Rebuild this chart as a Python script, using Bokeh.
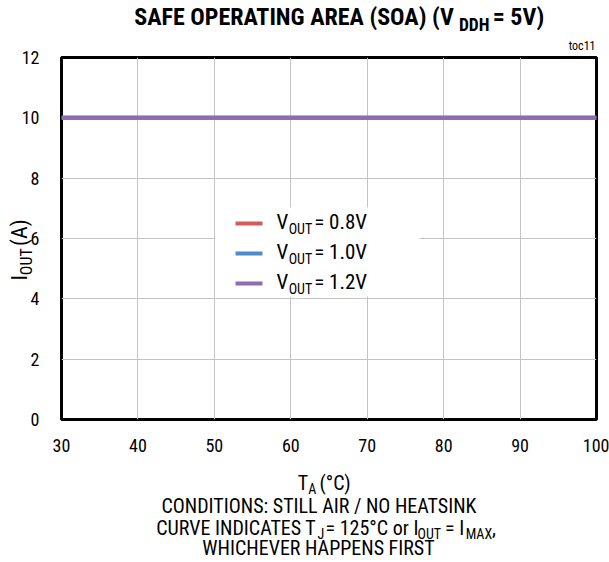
import math
from bokeh.plotting import figure
from bokeh.models import Label, BoxAnnotation, Range1d, FixedTicker, GridBox
from bokeh.embed import file_html
from bokeh.resources import INLINE

# ---- data ----
temps = [30, 100]
iout_08 = [10, 10]
iout_10 = [10, 10]
iout_12 = [10, 10]
series_names = ["0.8V", "1.0V", "1.2V"]
series_colors = ["#d25c5c", "#4f8bc9", "#8d6db0"]
x_ticks = [30, 40, 50, 60, 70, 80, 90, 100]
y_ticks = [0, 2, 4, 6, 8, 10, 12]

FONT = "Roboto Condensed"
WF = 0.866      # width factor relative to Arial metrics
BLF = 0.4       # empirical baseline correction (fraction of font size)
W, H = 609, 562
FL, FR, FT, FB = 61, 596, 57, 419  # frame edges in canvas px

p = figure(width=W, height=H, output_backend="svg", toolbar_location=None,
           x_range=Range1d(30, 100), y_range=Range1d(0, 12),
           min_border_left=FL, min_border_right=W - FR,
           min_border_top=FT, min_border_bottom=H - FB)
p.frame_align = False
p.outline_line_color = "black"
p.outline_line_width = 3
p.background_fill_color = "white"
p.border_fill_color = "white"

for ax in (p.xaxis, p.yaxis):
    ax.axis_line_color = None
    ax.major_tick_line_color = None
    ax.minor_tick_line_color = None
    ax.major_label_text_font = FONT
    ax.major_label_text_font_size = "18px"
    ax.major_label_text_color = "black"
p.xaxis.ticker = FixedTicker(ticks=x_ticks)
p.yaxis.ticker = FixedTicker(ticks=y_ticks)
p.xaxis.major_label_standoff = 13
p.yaxis.major_label_standoff = 16
p.grid.grid_line_color = "#c4c4c4"
p.grid.grid_line_width = 1
p.xgrid.ticker = FixedTicker(ticks=x_ticks)
p.ygrid.ticker = FixedTicker(ticks=y_ticks)

for ys, c in zip([iout_08, iout_10, iout_12], series_colors):
    p.line(temps, ys, line_color=c, line_width=4)


def sbox(l, r, t, b, color):
    p.add_layout(BoxAnnotation(left=l - FL, right=r - FL, bottom=FB - b, top=FB - t,
                               left_units="screen", right_units="screen",
                               bottom_units="screen", top_units="screen",
                               fill_color=color, fill_alpha=1.0, line_color=None))


# legend box and swatches
sbox(215, 419, 207, 296, "white")
LEG_Y = [223, 253, 283]
for yc, c in zip(LEG_Y, series_colors):
    sbox(235, 262, yc - 2, yc + 2, c)

# ---- overlay figure for all free text ----
o = figure(width=W, height=H, output_backend="svg", toolbar_location=None,
           x_range=Range1d(0, W), y_range=Range1d(0, H),
           x_axis_type=None, y_axis_type=None,
           min_border=0, min_border_left=0, min_border_right=0,
           min_border_top=0, min_border_bottom=0)
o.frame_align = False
o.grid.visible = False
o.outline_line_color = None
o.background_fill_color = None
o.border_fill_color = None

REG = {' ': 278, '(': 333, ')': 333, '.': 278, ',': 278, '/': 278, ':': 278, '=': 584, '°': 400,
       'A': 667, 'B': 667, 'C': 722, 'D': 722, 'E': 667, 'F': 611, 'G': 778, 'H': 722, 'I': 278,
       'J': 500, 'K': 667, 'L': 556, 'M': 833, 'N': 722, 'O': 778, 'P': 667, 'R': 722, 'S': 667,
       'T': 611, 'U': 722, 'V': 667, 'W': 944, 'X': 667, 'Y': 667, 'o': 556, 'r': 333, 't': 278,
       'c': 500}
BOLD = dict(REG)
BOLD.update({'A': 722, 'R': 722})


def tw(s, size, bold=False):
    tab = BOLD if bold else REG
    return sum(tab.get(ch, 556) for ch in s) / 1000.0 * WF * size


def lab(text, px, py, size, bold=False, align="left", rotated=False):
    if rotated:
        px -= BLF * size
    else:
        py -= BLF * size
    o.add_layout(Label(x=px, y=H - py, text=text, text_font=FONT,
                       text_font_size=f"{size}px",
                       text_font_style="bold" if bold else "normal",
                       text_align=align, text_baseline="alphabetic",
                       text_color="black", angle=math.pi / 2 if rotated else 0.0))


def rich(pieces, cx, base, size, sub_size, sub_drop, bold=False):
    # pieces: (text, is_sub, kern_after_px)
    total = sum(tw(t, sub_size if s else size, bold) + k for t, s, k in pieces)
    x = cx - total / 2.0
    for t, s, k in pieces:
        sz = sub_size if s else size
        lab(t, x, base + (sub_drop if s else 0), sz, bold)
        x += tw(t, sz, bold) + k


# title
rich([("SAFE OPERATING AREA (SOA) (V", False, -16), ("DDH", True, 1), (" = 5V)", False, 0)],
     341, 26, 24, 17.5, 5, bold=True)
lab("toc11", 595, 50, 12, align="right")

# x axis title and notes
rich([("T", False, 0), ("A", True, 3), (" (°C)", False, 0)], 326, 490, 20, 14, 4)
rich([("CONDITIONS: STILL AIR / NO HEATSINK", False, 0)], 326, 513, 20, 14, 4)
rich([("CURVE INDICATES T", False, -12), ("J", True, 2), (" = 125°C or I", False, -6),
      ("OUT", True, 2), (" = I", False, -4), ("MAX", True, 0), (",", False, 0)],
     326, 535, 20, 14, 4)
rich([("WHICHEVER HAPPENS FIRST", False, 0)], 326, 555, 20, 14, 4)

# y axis title, rotated (reads bottom to top)
yb, xb = 280, 28
lab("I", xb, yb, 22, rotated=True)
yb -= tw("I", 22)
lab("OUT", xb + 4, yb, 16, rotated=True)
yb -= tw("OUT", 16)
lab(" (A)", xb, yb, 22, rotated=True)

# legend texts
for yc, nm in zip(LEG_Y, series_names):
    x = 276
    lab("V", x, yc + 7, 21)
    x += tw("V", 21)
    lab("OUT", x, yc + 11, 14)
    x += tw("OUT", 14)
    lab(" = " + nm, x, yc + 7, 21)

grid = GridBox(children=[(p, 0, 0), (o, 0, 0)])
open("out.html", "w").write(file_html(grid, INLINE))
